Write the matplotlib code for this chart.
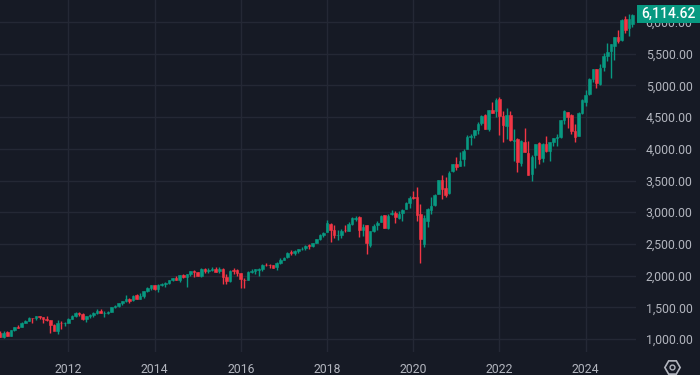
import matplotlib
matplotlib.use("Agg")
import matplotlib.pyplot as plt
from matplotlib.patches import Rectangle
import pandas as pd

# monthly candles, May 2010 .. Feb 2025
start_month = "2010-05"

opens = [
    1188.6, 1087.3, 1031.1, 1107.5, 1049.7, 1143.5, 1185.7, 1186.6,  # 2010
    1257.6, 1289.1, 1328.6, 1329.5, 1365.2, 1345.2, 1320.6, 1292.6, 1219.1, 1131.2, 1251.0, 1246.9,
    1258.9, 1312.5, 1365.9, 1408.5, 1397.9, 1309.9, 1362.3, 1379.3, 1406.5, 1440.9, 1412.2, 1416.2,
    1426.2, 1498.1, 1514.7, 1569.2, 1597.6, 1631.7, 1609.8, 1689.4, 1635.9, 1682.4, 1758.7, 1806.6,
    1845.9, 1782.7, 1857.7, 1874.0, 1884.4, 1923.9, 1962.3, 1929.8, 2004.1, 1971.4, 2018.2, 2065.8,
    2058.9, 1996.7, 2105.2, 2067.6, 2087.4, 2108.6, 2067.0, 2104.5, 1970.1, 1919.7, 2080.8, 2082.9,
    2038.2, 1936.9, 1937.1, 2056.6, 2067.2, 2093.9, 2099.3, 2173.2, 2171.0, 2164.3, 2128.7, 2200.2,
    2251.6, 2285.6, 2380.1, 2362.3, 2388.5, 2415.7, 2431.4, 2477.1, 2474.4, 2521.2, 2583.2, 2645.1,
    2683.7, 2816.5, 2715.2, 2633.5, 2643.0, 2718.7, 2705.0, 2821.2, 2897.0, 2926.3, 2717.6, 2790.5,
    2477.0, 2702.3, 2798.2, 2848.6, 2952.3, 2751.5, 2971.4, 2980.3, 2909.0, 2983.7, 3050.7, 3143.9,
    3244.7, 3235.7, 2974.3, 2498.1, 2869.1, 3038.8, 3105.9, 3288.3, 3507.4, 3385.9, 3296.2, 3645.9,
    3764.6, 3731.2, 3842.5, 3992.8, 4192.0, 4216.5, 4300.7, 4406.9, 4528.8, 4317.2, 4610.6, 4602.8,
    4778.1, 4519.6, 4363.1, 4540.3, 4130.6, 4149.8, 3781.0, 4112.4, 3936.7, 3609.8, 3901.8, 4087.1,
    3853.3, 4070.1, 3963.3, 4102.2, 4166.8, 4183.0, 4450.5, 4578.8, 4530.6, 4284.5, 4201.3, 4559.4,
    4745.2, 4861.1, 5098.5, 5258.0, 5029.0, 5297.2, 5471.1, 5537.8, 5623.9, 5757.7, 5723.2, 6040.1,
    5903.3, 5969.7,  # 2025
]
highs = [
    1219.8, 1131.2, 1121.0, 1129.2, 1148.9, 1196.1, 1227.1, 1262.6,
    1302.7, 1344.1, 1332.3, 1366.9, 1370.6, 1345.2, 1356.5, 1307.4, 1229.3, 1292.7, 1277.6, 1269.4,
    1333.5, 1378.0, 1419.2, 1422.4, 1415.3, 1363.5, 1391.7, 1426.7, 1474.5, 1471.0, 1434.3, 1448.0,
    1509.9, 1530.9, 1570.3, 1597.6, 1687.2, 1654.2, 1698.8, 1709.7, 1729.9, 1765.0, 1813.6, 1849.4,
    1850.8, 1867.9, 1884.0, 1897.3, 1924.0, 1968.2, 1991.4, 2005.0, 2019.3, 2018.2, 2075.8, 2093.6,
    2064.4, 2119.6, 2117.5, 2125.9, 2134.7, 2129.9, 2132.8, 2112.7, 2020.9, 2094.3, 2116.5, 2104.3,
    2038.2, 1963.0, 2072.2, 2111.1, 2103.5, 2120.6, 2177.1, 2193.8, 2187.9, 2169.6, 2214.1, 2277.5,
    2301.0, 2371.5, 2401.0, 2398.2, 2418.7, 2453.8, 2484.0, 2490.9, 2519.4, 2583.0, 2657.7, 2695.0,
    2872.9, 2836.0, 2801.9, 2717.5, 2742.2, 2791.5, 2848.0, 2916.5, 2940.9, 2939.9, 2815.2, 2800.2,
    2709.0, 2813.5, 2860.3, 2949.5, 2954.1, 2964.2, 3028.0, 3013.6, 3022.0, 3050.1, 3154.3, 3247.9,
    3337.8, 3393.5, 3136.7, 2954.9, 3068.7, 3233.1, 3280.0, 3514.8, 3588.1, 3549.9, 3646.0, 3760.2,
    3870.9, 3950.4, 3994.4, 4218.8, 4238.0, 4302.4, 4430.0, 4537.4, 4545.9, 4608.1, 4743.8, 4808.9,
    4818.6, 4595.3, 4637.3, 4593.5, 4307.7, 4177.5, 4140.2, 4325.3, 4119.3, 3905.4, 4080.1, 4101.0,
    4094.2, 4195.4, 4110.8, 4170.1, 4231.1, 4448.5, 4607.1, 4584.6, 4541.3, 4393.6, 4587.6, 4793.3,
    4931.1, 5111.1, 5264.9, 5264.0, 5341.9, 5505.5, 5669.7, 5651.6, 5767.4, 5878.5, 6044.2, 6100.0,
    6128.2, 6128.2,
]
lows = [
    1040.8, 1028.3, 1010.9, 1039.7, 1049.7, 1131.9, 1173.0, 1186.6,
    1257.6, 1289.1, 1249.1, 1302.7, 1311.8, 1258.1, 1282.9, 1101.5, 1136.2, 1074.8, 1158.7, 1202.4,
    1258.9, 1312.5, 1340.0, 1357.4, 1292.0, 1266.7, 1325.4, 1354.7, 1396.6, 1403.3, 1343.4, 1398.1,
    1426.2, 1485.0, 1501.5, 1536.0, 1581.3, 1560.3, 1604.6, 1627.5, 1633.4, 1646.5, 1746.2, 1768.0,
    1770.5, 1737.9, 1834.4, 1814.4, 1859.8, 1916.0, 1930.7, 1904.8, 1964.0, 1820.7, 2001.0, 1972.6,
    1988.4, 1980.9, 2039.7, 2048.4, 2067.9, 2056.3, 2044.0, 1867.0, 1871.9, 1893.7, 2019.4, 1993.3,
    1812.3, 1810.1, 1937.1, 2033.8, 2025.9, 1991.7, 2074.0, 2147.6, 2119.1, 2114.7, 2083.8, 2187.4,
    2245.1, 2271.7, 2322.3, 2329.0, 2352.7, 2405.7, 2407.7, 2417.4, 2446.6, 2520.4, 2566.2, 2605.5,
    2682.4, 2532.7, 2585.9, 2553.8, 2594.6, 2692.0, 2699.0, 2796.3, 2864.1, 2603.5, 2631.1, 2346.6,
    2444.0, 2681.8, 2722.3, 2848.6, 2750.5, 2728.8, 2952.2, 2822.1, 2892.0, 2855.9, 3050.7, 3070.3,
    3214.6, 2855.8, 2191.9, 2447.5, 2766.6, 2965.7, 3101.2, 3284.5, 3209.5, 3233.9, 3279.7, 3633.4,
    3662.7, 3725.6, 3723.3, 3992.8, 4056.9, 4164.4, 4233.1, 4367.7, 4305.9, 4278.9, 4560.0, 4495.1,
    4222.6, 4114.7, 4157.9, 4124.3, 3810.3, 3636.9, 3721.6, 3954.5, 3584.1, 3491.6, 3698.2, 3764.5,
    3794.3, 3943.1, 3808.9, 4048.3, 4048.3, 4166.2, 4385.1, 4335.3, 4238.6, 4103.8, 4197.7, 4546.5,
    4682.1, 4853.4, 5056.8, 4953.6, 5011.1, 5234.3, 5391.0, 5119.3, 5402.6, 5674.0, 5696.5, 5832.3,
    5773.3, 5923.9,
]
closes = [
    1089.4, 1030.7, 1101.6, 1049.3, 1141.2, 1183.3, 1180.6, 1257.6,
    1286.1, 1327.2, 1325.8, 1363.6, 1345.2, 1320.6, 1292.3, 1218.9, 1131.4, 1253.3, 1247.0, 1257.6,
    1312.4, 1365.7, 1408.5, 1397.9, 1310.3, 1362.2, 1379.3, 1406.6, 1440.7, 1412.2, 1416.2, 1426.2,
    1498.1, 1514.7, 1569.2, 1597.6, 1630.7, 1606.3, 1685.7, 1633.0, 1681.6, 1756.5, 1805.8, 1848.4,
    1782.6, 1859.5, 1872.3, 1884.0, 1923.6, 1960.2, 1930.7, 2003.4, 1972.3, 2018.1, 2067.6, 2058.9,
    1995.0, 2104.5, 2067.9, 2085.5, 2107.4, 2063.1, 2103.8, 1972.2, 1920.0, 2079.4, 2080.4, 2043.9,
    1940.2, 1932.2, 2059.7, 2065.3, 2097.0, 2098.9, 2173.6, 2171.0, 2168.3, 2126.2, 2198.8, 2238.8,
    2278.9, 2363.6, 2362.7, 2384.2, 2411.8, 2423.4, 2470.3, 2471.7, 2519.4, 2575.3, 2647.6, 2673.6,
    2823.8, 2713.8, 2640.9, 2648.1, 2705.3, 2718.4, 2816.3, 2901.5, 2914.0, 2711.7, 2760.2, 2506.9,
    2704.1, 2784.5, 2834.4, 2945.8, 2752.1, 2941.8, 2980.4, 2926.5, 2976.7, 3037.6, 3141.0, 3230.8,
    3225.5, 2954.2, 2584.6, 2912.4, 3044.3, 3100.3, 3271.1, 3500.3, 3363.0, 3270.0, 3621.6, 3756.1,
    3714.2, 3811.2, 3972.9, 4181.2, 4204.1, 4297.5, 4395.3, 4522.7, 4307.5, 4605.4, 4567.0, 4766.2,
    4515.6, 4373.9, 4530.4, 4131.9, 4132.2, 3785.4, 4130.3, 3955.0, 3585.6, 3872.0, 4080.1, 3839.5,
    4076.6, 3970.2, 4109.3, 4169.5, 4179.8, 4450.4, 4589.0, 4507.7, 4288.1, 4193.8, 4567.8, 4769.8,
    4845.7, 5096.3, 5254.4, 5035.7, 5277.5, 5460.5, 5522.3, 5648.4, 5762.5, 5705.5, 6032.4, 5881.6,
    6040.5, 6114.62,
]

year_ticks = [2012, 2014, 2016, 2018, 2020, 2022, 2024]
price_ticks = [1000, 1500, 2000, 2500, 3000, 3500, 4000, 4500, 5000, 5500, 6000]
last_price_label = "6,114.62"

bg = "#161a25"
grid_col = "#242835"
up_col = "#089981"
down_col = "#f23645"
text_col = "#b2b5be"

plt.rcParams['font.family'] = ['Roboto', 'DejaVu Sans']

months = pd.date_range(start_month, periods=len(closes), freq="MS")
xs = [d.year + (d.month - 1) / 12 for d in months]
colors = [up_col if c >= o else down_col for o, c in zip(opens, closes)]

fig = plt.figure(figsize=(7, 3.75), dpi=100, facecolor=bg)
ax = fig.add_axes([0, 23 / 375, 636 / 700, 352 / 375])
ax.set_facecolor(bg)

# wicks then bodies
ax.vlines(xs, lows, highs, colors=colors, linewidth=1, zorder=3)
bottoms = [min(o, c) for o, c in zip(opens, closes)]
heights = [abs(c - o) for o, c in zip(opens, closes)]
ax.bar(xs, heights, bottom=bottoms, width=0.72 / 12, color=colors,
       edgecolor=colors, linewidth=0.4, zorder=4)

ax.set_xlim(2010.415, 2025.167)
ax.set_ylim(795, 6347)

ax.set_xticks(year_ticks)
ax.set_xticklabels([str(y) for y in year_ticks])
ax.set_yticks(price_ticks)
ax.set_yticklabels(["{:,.2f}".format(p) for p in price_ticks])
ax.yaxis.tick_right()
ax.tick_params(axis="both", length=0, colors=text_col, labelsize=8.8)
ax.tick_params(axis="y", pad=7)
ax.tick_params(axis="x", pad=8)

ax.grid(True, color=grid_col, linewidth=1)
ax.set_axisbelow(True)
for s in ax.spines.values():
    s.set_visible(False)

# last price tag on the price scale
fig.patches.append(Rectangle((637 / 700, 1 - 23 / 375), 63 / 700, 18 / 375,
                             transform=fig.transFigure, facecolor=up_col,
                             edgecolor="none", zorder=10))
fig.text(668 / 700, 1 - 14 / 375, last_price_label, ha="center", va="center",
         color="white", fontsize=10, fontweight="medium", zorder=11)

# settings icon in the corner
ax.plot([672 / 700], [1 - 367 / 375], marker="H", markersize=11, mfc="none",
        mec=text_col, mew=1.2, transform=fig.transFigure, clip_on=False)
ax.plot([672 / 700], [1 - 367 / 375], marker="o", markersize=3.5, mfc="none",
        mec=text_col, mew=1.0, transform=fig.transFigure, clip_on=False)

fig.savefig("out.png", dpi=100, facecolor=bg)
